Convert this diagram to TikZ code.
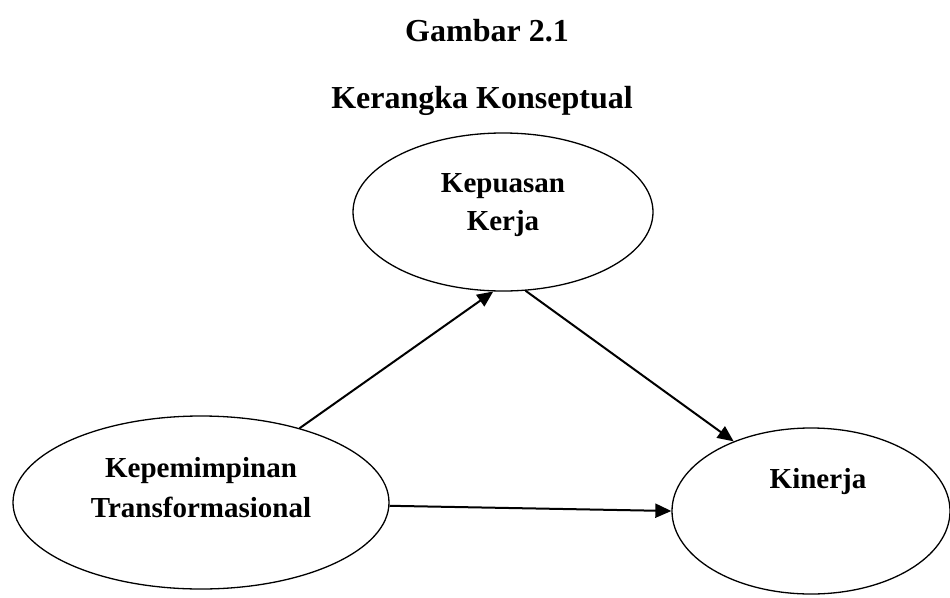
\documentclass[tikz,border=0pt]{standalone}
\usepackage{fontspec}
\setmainfont{Liberation Serif}
\usetikzlibrary{shapes.geometric,arrows.meta}
\tikzset{
  oval/.style={draw, ellipse, line width=1.3pt, inner sep=0pt},
  lbl/.style={font=\bfseries\fontsize{29}{35}\selectfont, anchor=base, inner sep=0pt},
  ttl/.style={font=\bfseries\fontsize{32}{38}\selectfont, anchor=base, inner sep=0pt},
  conn/.style={line width=2pt, -{Triangle[length=16pt,width=14pt]}}
}
\begin{document}
\begin{tikzpicture}[x=1pt,y=-1pt]
\useasboundingbox (0,0) rectangle (950,597);
\node[ttl] (t1) at (487,41) {Gambar 2.1};
\node[ttl] (t2) at (482,108) {Kerangka Konseptual};
\node[oval, minimum width=300pt, minimum height=158pt] (kk) at (503,212) {};
\node[oval, minimum width=376pt, minimum height=173pt] (kt) at (201,502.5) {};
\node[oval, minimum width=278pt, minimum height=166pt] (kn) at (811,511) {};
\node[lbl] (kk1) at (503,192) {Kepuasan};
\node[lbl] (kk2) at (503,230) {Kerja};
\node[lbl] (kt1) at (201,477) {Kepemimpinan};
\node[lbl] (kt2) at (201,517) {Transformasional};
\node[lbl] (kn1) at (818,488) {Kinerja};
\draw[conn] (kt.37) -- (kk.263);
\draw[conn] (kk.286) -- (kn.138);
\draw[conn] (kt.359.4) -- (kn.180);
\end{tikzpicture}
\end{document}
